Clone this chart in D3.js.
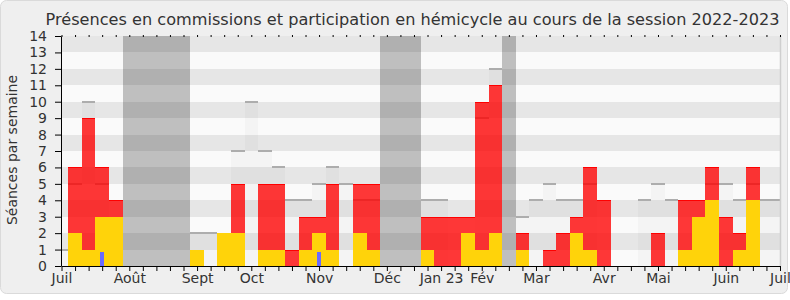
<!DOCTYPE html>
<html><head><meta charset="utf-8">
<script src="https://cdn.jsdelivr.net/npm/d3@7"></script>
<style>body{margin:0;background:#fff}svg{display:block;font-family:"DejaVu Sans",sans-serif}</style>
</head><body><svg id="c" width="790" height="300"></svg>
<script>
// ---- Données ----
const semaines = [0,1,2,3,4,5,6,7,8,9,10,11,12,13,14,15,16,17,18,19,20,21,22,23,24,25,26,27,28,29,30,31,32,33,34,35,36,37,38,39,40,41,42,43,44,45,46,47,48,49,50,51,52,53];
const mediane = [1,5,10,5,0, 0,0,0,0,0, 2,2,0,7,10, 7,6,4,4,5, 6,5,4,4,0, 0,0,4,4,0, 0,9,12,0,3, 4,5,4,4,5, 0,0,0,4,5, 4,0,0,5,5, 4,5,4,4];
const presenceCommission = [0,6,9,6,4, 0,0,0,0,0, 0,0,0,5,0, 5,5,1,3,3, 5,0,5,5,0, 0,0,3,3,3, 3,10,11,0,2, 0,1,2,3,6, 4,0,0,0,2, 0,4,4,6,3, 2,6,0,0];
const participationHemicycle = [0,2,1,3,3, 0,0,0,0,0, 1,0,2,2,0, 1,1,0,1,2, 1,0,2,1,0, 0,0,1,0,0, 2,1,2,0,1, 0,0,0,2,1, 0,0,0,0,0, 0,1,3,4,0, 1,4,0,0];
const questionsOrales = [0,0,0,0.87,0, 0,0,0,0,0, 0,0,0,0,0, 0,0,0,0,0.87, 0,0,0,0,0, 0,0,0,0,0, 0,0,0,0,0, 0,0,0,0,0, 0,0,0,0,0, 0,0,0,0,0, 0,0,0,0];
const vacances = [5,6,7,8,9,24,25,26,33];
const moisLabels = ["Juil","Août","Sept","Oct","Nov","Déc","Jan 23","Fév","Mar","Avr","Mai","Juin","Juil"];
const moisSemaines = [0,5,10,14,19,24,28,31,35,40,44,49,53];
const graduationsY = [0,1,2,3,4,5,6,7,8,9,10,11,12,13,14];
const titre = "Présences en commissions et participation en hémicycle au cours de la session 2022-2023";
const titreY = "Séances par semaine";

// ---- Mise en page ----
const svg = d3.select("#c");
svg.append("rect").attr("x",0.5).attr("y",0.5).attr("width",787).attr("height",293)
  .attr("rx",6).attr("fill","#efefef").attr("stroke","#dadada");

const L = 61, R = 780, T = 36, B = 266;
const x = d3.scaleLinear().domain([0,53]).range([61.5,780]);
const y = d3.scaleLinear().domain([0,14]).range([B,T]);
const x0 = s => Math.round(x(s-0.5));
const wd = s => Math.round(x(s+0.5)) - Math.round(x(s-0.5));
const yr = v => Math.round(y(v));
const hr = v => B - Math.round(y(v));

svg.append("clipPath").attr("id","clip").append("rect")
  .attr("x",L).attr("y",T).attr("width",R-L).attr("height",B-T);
const g = svg.append("g").attr("clip-path","url(#clip)").attr("shape-rendering","crispEdges");

// bandes
const bands = graduationsY.slice(0,14);
g.selectAll(".band").data(bands).join("rect")
  .attr("x",L).attr("width",R-L)
  .attr("y",d=>yr(d+1)).attr("height",d=>yr(d)-yr(d+1))
  .attr("fill",d=>d%2?"#e6e6e6":"#fafafa");

// vacances
g.selectAll(".vac").data(vacances).join("rect")
  .attr("x",d=>x0(d)).attr("width",d=>wd(d))
  .attr("y",T).attr("height",B-T).attr("fill","rgba(0,0,0,0.235)");

const rows = semaines.map((s,i)=>({s, m:mediane[i], c:presenceCommission[i], h:participationHemicycle[i], q:questionsOrales[i]}));

// médiane
const med = rows.filter(d=>d.m>0);
g.selectAll(".med").data(med).join("rect")
  .attr("x",d=>x0(d.s)).attr("width",d=>wd(d.s))
  .attr("y",d=>yr(d.m)).attr("height",d=>hr(d.m)).attr("fill","rgba(0,0,0,0.025)");
g.selectAll(".medl").data(med).join("rect")
  .attr("x",d=>x0(d.s)).attr("width",d=>wd(d.s))
  .attr("y",d=>yr(d.m)-1).attr("height",2).attr("fill","#adadad");

// commission
const com = rows.filter(d=>d.c>0);
g.selectAll(".com").data(com).join("rect")
  .attr("x",d=>x0(d.s)).attr("width",d=>wd(d.s))
  .attr("y",d=>yr(d.c)).attr("height",d=>hr(d.c)).attr("fill","rgba(255,0,0,0.78)");
g.selectAll(".coml").data(com).join("rect")
  .attr("x",d=>x0(d.s)).attr("width",d=>wd(d.s))
  .attr("y",d=>yr(d.c)).attr("height",1).attr("fill","#f00");

// hémicycle
const hem = rows.filter(d=>d.h>0);
g.selectAll(".hem").data(hem).join("rect")
  .attr("x",d=>x0(d.s)).attr("width",d=>wd(d.s))
  .attr("y",d=>yr(d.h)).attr("height",d=>hr(d.h)).attr("fill","#ffd30a");

// questions
const qo = rows.filter(d=>d.q>0);
g.selectAll(".qo").data(qo).join("rect")
  .attr("x",d=>Math.round(x(d.s))-2).attr("width",4)
  .attr("y",d=>yr(d.q)).attr("height",d=>hr(d.q)).attr("fill","#6b6bff");

// bord droit
svg.append("line").attr("x1",R+0.5).attr("x2",R+0.5).attr("y1",T).attr("y2",B)
  .attr("stroke","#cfcfcf").attr("stroke-width",1.5);

// axes
const lab = new Map(moisSemaines.map((s,i)=>[s,moisLabels[i]]));
const ax = svg.append("g").attr("transform",`translate(0,${B})`)
  .call(d3.axisBottom(x).tickValues(semaines).tickSize(5).tickSizeOuter(0).tickPadding(2.5)
    .tickFormat(d=>lab.get(d)||""));
ax.selectAll("text").attr("font-size",14).attr("fill","#333").attr("font-family","DejaVu Sans");
ax.select(".domain").attr("stroke","#000");

const axt = svg.append("g").attr("transform",`translate(0,${T+1})`)
  .call(d3.axisTop(x).tickValues(semaines).tickSize(2).tickSizeOuter(0).tickFormat(""));
axt.select(".domain").remove();

const ay = svg.append("g").attr("transform",`translate(${L},0)`)
  .call(d3.axisLeft(y).tickValues(graduationsY).tickSize(6).tickPadding(8).tickSizeOuter(0).tickFormat(d3.format("d")));
ay.selectAll("text").attr("font-size",14).attr("fill","#333").attr("font-family","DejaVu Sans");
ay.select(".domain").attr("stroke","#000");

// titre
const t = svg.append("text").attr("x",412.5).attr("y",25).attr("text-anchor","middle")
  .attr("font-size",16).attr("fill","#333").text(titre);
const tw = t.node().getComputedTextLength();
t.attr("font-size", 16*735/tw);

svg.append("text").attr("transform","translate(17,150) rotate(-90)")
  .attr("text-anchor","middle").attr("font-size",14).attr("fill","#333").text(titreY);
</script></body></html>
